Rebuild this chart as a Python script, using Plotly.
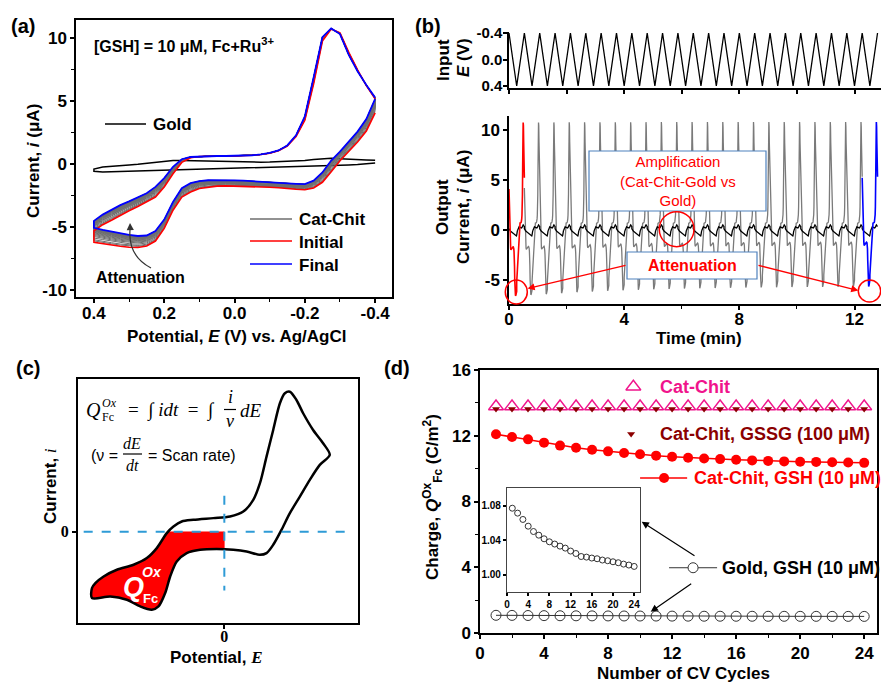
import plotly.graph_objects as go

W, H = 881, 684
SANS = "Liberation Sans, Arial, sans-serif"
SERIF = "Liberation Serif, Times New Roman, serif"

# ---------------- Panel (a)/(b): CV data, sampled every 25 mV ----------------
E_fwd = [-0.400, -0.375, -0.350, -0.325, -0.300, -0.275, -0.250, -0.225, -0.200, -0.175,
         -0.150, -0.125, -0.100, -0.075, -0.050, -0.025, 0.000, 0.025, 0.050, 0.075,
         0.100, 0.125, 0.150, 0.175, 0.200, 0.225, 0.250, 0.275, 0.300, 0.325,
         0.350, 0.375, 0.400]
E_rev = E_fwd[::-1]

# Cat-Chit, initial cycle (red)
i_initial_fwd = [4.08, 2.65, 1.77, 1.03, 0.28, -0.60, -1.43, -1.88, -2.02, -1.98,
                 -1.90, -1.86, -1.83, -1.80, -1.77, -1.74, -1.72, -1.72, -1.74, -1.80,
                 -1.92, -2.20, -2.60, -3.65, -5.10, -6.10, -6.50, -6.62, -6.60, -6.52,
                 -6.42, -6.30, -6.20]
i_initial_rev = [-5.30, -4.80, -4.45, -4.05, -3.70, -3.35, -3.00, -2.60, -1.80, -0.75,
                 0.15, 0.52, 0.62, 0.65, 0.66, 0.66, 0.66, 0.68, 0.72, 0.78,
                 0.88, 1.08, 1.45, 2.20, 3.50, 6.40, 9.80, 10.75, 10.45, 8.90,
                 7.50, 6.25, 5.20]
# Cat-Chit, final cycle (blue)
i_final_fwd = [5.20, 3.60, 2.60, 1.80, 1.00, 0.30, -0.65, -1.30, -1.58, -1.55,
               -1.50, -1.45, -1.40, -1.36, -1.32, -1.30, -1.28, -1.26, -1.25, -1.27,
               -1.33, -1.50, -1.90, -3.00, -4.40, -5.30, -5.66, -5.70, -5.62, -5.50,
               -5.38, -5.22, -5.05]
i_final_rev = [-4.50, -4.00, -3.60, -3.25, -2.95, -2.65, -2.30, -1.80, -1.10, -0.20,
               0.40, 0.58, 0.62, 0.65, 0.66, 0.66, 0.66, 0.68, 0.72, 0.78,
               0.90, 1.10, 1.50, 2.30, 3.80, 6.90, 10.10, 10.80, 10.35, 8.70,
               7.40, 6.30, 5.30]
# Bare gold electrode (black)
i_gold_fwd = [0.10, 0.02, -0.02, -0.05, -0.07, -0.10, -0.13, -0.15, -0.17, -0.19,
              -0.21, -0.23, -0.25, -0.27, -0.29, -0.31, -0.33, -0.35, -0.37, -0.39,
              -0.41, -0.43, -0.45, -0.47, -0.49, -0.51, -0.53, -0.55, -0.57, -0.60,
              -0.62, -0.62, -0.55]
i_gold_rev = [-0.38, -0.22, -0.15, -0.10, -0.05, 0.00, 0.08, 0.16, 0.25, 0.30,
              0.30, 0.28, 0.26, 0.24, 0.22, 0.20, 0.18, 0.17, 0.17, 0.17,
              0.18, 0.20, 0.22, 0.25, 0.30, 0.38, 0.45, 0.48, 0.45, 0.40,
              0.37, 0.35, 0.32]

scan_rate = 3.0      # V/min (50 mV/s)
n_cycles = 24

# ---------------- Panel (d) ----------------
cycles = [1, 2, 3, 4, 5, 6, 7, 8, 9, 10, 11, 12, 13, 14, 15, 16, 17, 18, 19, 20, 21, 22, 23, 24]
Q_catchit = [13.78, 13.78, 13.78, 13.78, 13.78, 13.78, 13.78, 13.78, 13.78, 13.78, 13.78, 13.78,
             13.78, 13.78, 13.78, 13.78, 13.78, 13.78, 13.78, 13.78, 13.78, 13.78, 13.78, 13.78]
Q_gssg = [13.62, 13.62, 13.62, 13.62, 13.62, 13.62, 13.62, 13.62, 13.62, 13.62, 13.62, 13.62,
          13.62, 13.62, 13.62, 13.62, 13.62, 13.62, 13.62, 13.62, 13.62, 13.62, 13.62, 13.62]
Q_gsh = [12.09, 11.92, 11.78, 11.58, 11.40, 11.27, 11.15, 11.05, 10.95, 10.87, 10.79, 10.72,
         10.66, 10.62, 10.58, 10.54, 10.50, 10.47, 10.44, 10.42, 10.41, 10.39, 10.37, 10.35]
Q_gold = [1.077, 1.0713, 1.064, 1.0562, 1.050, 1.0458, 1.0416, 1.0381, 1.0355, 1.0331, 1.0308, 1.0274,
          1.0246, 1.0211, 1.0204, 1.0193, 1.0185, 1.017, 1.0162, 1.015, 1.0139, 1.0123, 1.0112, 1.0096]

# ---------------- Panel (c): schematic CV ----------------
schem_E = [-132.7, -114.3, -97.7, -84.3, -72.7, -66.0, -59.3, -54.3, -47.7, -37.7, -24.3, -7.7,
           9.0, 22.3, 35.7, 42.3, 49.0, 57.3, 65.7, 75.7, 85.7, 95.7, 105.7, 99.0, 89.0, 79.0,
           72.3, 65.7, 60.7, 55.7, 49.0, 42.3, 35.7, 29.0, 19.0, 5.7, -11.0, -31.0, -42.7, -51.0,
           -57.7, -67.7, -77.7, -91.0, -107.7, -121.0, -129.3, -132.7, -132.7]
schem_i = [-66.3, -64.7, -68.0, -74.7, -78.0, -74.7, -61.3, -44.7, -29.7, -21.3, -18.0, -17.3,
           -18.0, -19.7, -23.0, -21.3, -13.0, 2.0, 18.7, 35.3, 52.0, 67.0, 77.0, 88.7, 102.0, 118.7,
           132.0, 140.3, 138.7, 128.7, 102.0, 75.3, 48.7, 32.0, 20.3, 15.3, 13.7, 12.0, 10.3, 5.3,
           -1.3, -16.3, -26.3, -33.0, -38.0, -44.7, -51.3, -56.3, -66.3]
fill_E = [-56.3, 0.0, 0.0, -7.7, -24.3, -37.7, -47.7, -54.3, -59.3, -66.0, -72.7, -84.3, -97.7,
          -114.3, -132.7, -132.7, -129.3, -121.0, -107.7, -91.0, -77.7, -67.7, -57.7]
fill_i = [0.0, 0.0, -17.3, -17.3, -18.0, -21.3, -29.7, -44.7, -61.3, -74.7, -78.0, -74.7, -68.0,
          -64.7, -66.3, -56.3, -51.3, -44.7, -38.0, -33.0, -26.3, -16.3, -1.3]

# ---------------- derived series ----------------
E_cycle = E_fwd + E_rev
E_span = E_fwd[-1] - E_fwd[0]
period = 2 * E_span / scan_rate
t_in_cycle = [(E - E_fwd[0]) / scan_rate for E in E_fwd] + \
             [(E_span + E_fwd[-1] - E) / scan_rate for E in E_rev]
i_initial = i_initial_fwd + i_initial_rev
i_final = i_final_fwd + i_final_rev
i_gold = i_gold_fwd + i_gold_rev


# intermediate Cat-Chit cycles weighted by the measured charge decay (panel d)
def cycle_current(k):
    w = (Q_gsh[k] - Q_gsh[-1]) / (Q_gsh[0] - Q_gsh[-1])
    return [w * a + (1 - w) * b for a, b in zip(i_initial, i_final)]


gray_E, gray_t, gray_i = [], [], []
for k in range(1, n_cycles - 1):
    cur = cycle_current(k)
    gray_E += E_cycle
    gray_i += cur
    gray_t += [k * period + t for t in t_in_cycle]

all_t, all_E, gold_i_t = [], [], []
for k in range(n_cycles):
    all_t += [k * period + t for t in t_in_cycle]
    all_E += E_cycle
    gold_i_t += i_gold

t_first = t_in_cycle
t_last = [(n_cycles - 1) * period + t for t in t_in_cycle]

GRAY = "#6e6e6e"
PINK = "#F0148C"
DRED = "#8B0000"

fig = go.Figure()
# (a)
fig.add_trace(go.Scatter(x=E_cycle, y=i_gold, mode="lines", line=dict(color="black", width=1.5), xaxis="x", yaxis="y"))
fig.add_trace(go.Scatter(x=gray_E, y=gray_i, mode="lines", line=dict(color=GRAY, width=1.0), xaxis="x", yaxis="y"))
fig.add_trace(go.Scatter(x=E_cycle, y=i_initial, mode="lines", line=dict(color="red", width=1.6), xaxis="x", yaxis="y"))
fig.add_trace(go.Scatter(x=E_cycle, y=i_final, mode="lines", line=dict(color="blue", width=1.8), xaxis="x", yaxis="y"))
# (b) input
fig.add_trace(go.Scatter(x=all_t, y=all_E, mode="lines", line=dict(color="black", width=1.3), xaxis="x2", yaxis="y2"))
# (b) output
fig.add_trace(go.Scatter(x=gray_t, y=gray_i, mode="lines", line=dict(color="#7a7a7a", width=1.3), xaxis="x3", yaxis="y3"))
fig.add_trace(go.Scatter(x=all_t, y=gold_i_t, mode="lines", line=dict(color="black", width=1.3), xaxis="x3", yaxis="y3"))
fig.add_trace(go.Scatter(x=t_first, y=i_initial, mode="lines", line=dict(color="red", width=1.6), xaxis="x3", yaxis="y3"))
fig.add_trace(go.Scatter(x=t_last, y=i_final, mode="lines", line=dict(color="blue", width=1.6), xaxis="x3", yaxis="y3"))
# (c)
fig.add_trace(go.Scatter(x=fill_E, y=fill_i, mode="lines", fill="toself", fillcolor="red",
                         line=dict(color="red", width=0.5), xaxis="x4", yaxis="y4"))
fig.add_trace(go.Scatter(x=schem_E, y=schem_i, mode="lines",
                         line=dict(color="black", width=2.5, shape="spline", smoothing=0.8),
                         xaxis="x4", yaxis="y4"))
# (d)
fig.add_trace(go.Scatter(x=cycles, y=Q_gold, mode="lines+markers", line=dict(color="#333", width=1),
                         marker=dict(symbol="circle-open", size=10, color="#333", line=dict(width=1)),
                         xaxis="x5", yaxis="y5"))
fig.add_trace(go.Scatter(x=cycles, y=Q_gsh, mode="lines+markers", line=dict(color="red", width=1.5),
                         marker=dict(symbol="circle", size=10, color="red"), xaxis="x5", yaxis="y5"))
fig.add_trace(go.Scatter(x=cycles, y=Q_catchit, mode="markers",
                         marker=dict(symbol="triangle-up-open", size=13, color=PINK, line=dict(width=1.4)),
                         xaxis="x5", yaxis="y5"))
fig.add_trace(go.Scatter(x=cycles, y=Q_gssg, mode="markers",
                         marker=dict(symbol="triangle-down", size=7, color=DRED), xaxis="x5", yaxis="y5"))
# (d) legend keys
fig.add_trace(go.Scatter(x=[9.58], y=[14.98], mode="markers",
                         marker=dict(symbol="triangle-up-open", size=13, color=PINK, line=dict(width=1.4)),
                         xaxis="x5", yaxis="y5"))
fig.add_trace(go.Scatter(x=[9.44], y=[12.10], mode="markers",
                         marker=dict(symbol="triangle-down", size=7, color=DRED), xaxis="x5", yaxis="y5"))
fig.add_trace(go.Scatter(x=[10.0, 12.94], y=[9.43, 9.43], mode="lines", line=dict(color="red", width=1.5),
                         xaxis="x5", yaxis="y5"))
fig.add_trace(go.Scatter(x=[11.5], y=[9.43], mode="markers", marker=dict(symbol="circle", size=10, color="red"),
                         xaxis="x5", yaxis="y5"))
fig.add_trace(go.Scatter(x=[11.81, 14.81], y=[3.97, 3.97], mode="lines", line=dict(color="#333", width=1),
                         xaxis="x5", yaxis="y5"))
fig.add_trace(go.Scatter(x=[13.31], y=[3.97], mode="markers",
                         marker=dict(symbol="circle", size=10, color="white", line=dict(color="#333", width=1)),
                         xaxis="x5", yaxis="y5"))
# inset
fig.add_trace(go.Scatter(x=cycles, y=Q_gold, mode="markers",
                         marker=dict(symbol="circle-open", size=6, color="#333", line=dict(width=1)),
                         xaxis="x6", yaxis="y6"))


def ax(**kw):
    d = dict(showline=True, linecolor="black", linewidth=1.5, ticks="outside", ticklen=4, tickwidth=1.5,
             tickcolor="black", showgrid=False, zeroline=False, tickmode="array", automargin=False,
             tickfont=dict(family=SANS, size=17, color="black", weight="bold"))
    d.update(kw)
    return d


def minor(vals, ln=3):
    return dict(tickmode="array", tickvals=vals, ticks="outside", ticklen=ln, tickwidth=1.2, tickcolor="black")


def dom_x(a, b):
    return [a / W, b / W]


def dom_y(top, bottom):
    return [1 - bottom / H, 1 - top / H]


fig.update_layout(
    width=W, height=H, margin=dict(l=0, r=0, t=0, b=0, autoexpand=False), showlegend=False,
    paper_bgcolor="white", plot_bgcolor="white",
    xaxis=ax(domain=dom_x(76, 392), range=[0.451, -0.448], anchor="y", mirror=True, ticklabelstandoff=-4,
             tickvals=[0.4, 0.2, 0.0, -0.2, -0.4], ticktext=["0.4", "0.2", "0.0", "-0.2", "-0.4"],
             minor=minor([0.3, 0.1, -0.1, -0.3])),
    yaxis=ax(domain=dom_y(20, 297), range=[-10.55, 11.47], anchor="x", mirror=True,
             tickvals=[-10, -5, 0, 5, 10], ticktext=["-10", "-5", "0", "5", "10"],
             minor=minor([-7.5, -2.5, 2.5, 7.5])),
    xaxis2=ax(domain=dom_x(509, 881), range=[0, 12.92], anchor="y2", showticklabels=False,
              tickvals=[0, 2, 4, 6, 8, 10, 12]),
    yaxis2=ax(domain=dom_y(31.7, 88), range=[0.43, -0.42], anchor="x2", ticklabelstandoff=-2,
              tickvals=[-0.4, 0.0, 0.4], ticktext=["-0.4", "0.0", "0.4"],
              tickfont=dict(family=SANS, size=15, color="black", weight="bold")),
    xaxis3=ax(domain=dom_x(509, 881), range=[0, 12.92], anchor="y3", ticklabelstandoff=-5,
              tickvals=[0, 4, 8, 12], ticktext=["0", "4", "8", "12"], minor=minor([2, 6, 10])),
    yaxis3=ax(domain=dom_y(116, 304), range=[-7.45, 11.4], anchor="x3",
              tickvals=[-5, 0, 5, 10], ticktext=["-5", "0", "5", "10"]),
    xaxis4=ax(domain=dom_x(78, 358), range=[-146.7, 134], anchor="y4", mirror=True, linewidth=2,
              ticklabelstandoff=-6,
              tickvals=[0], ticktext=["0"], tickfont=dict(family=SERIF, size=16, color="black", weight="bold")),
    yaxis4=ax(domain=dom_y(379, 623), range=[-91.3, 153], anchor="x4", mirror=True, linewidth=2,
              tickvals=[0], ticktext=["0"], tickfont=dict(family=SERIF, size=16, color="black", weight="bold")),
    xaxis5=ax(domain=dom_x(480, 877), range=[0, 24.8], anchor="y5", mirror=True,
              tickvals=[0, 4, 8, 12, 16, 20, 24], ticktext=["0", "4", "8", "12", "16", "20", "24"],
              minor=minor([2, 6, 10, 14, 18, 22])),
    yaxis5=ax(domain=dom_y(370, 633), range=[0, 16], anchor="x5", mirror=True,
              tickvals=[0, 4, 8, 12, 16], ticktext=["0", "4", "8", "12", "16"],
              minor=minor([2, 6, 10, 14])),
    xaxis6=ax(domain=dom_x(507, 640), range=[0, 25.1], anchor="y6", mirror=True, linewidth=1.3, ticklen=3,
              linecolor="#444", tickvals=[0, 4, 8, 12, 16, 20, 24],
              ticktext=["0", "4", "8", "12", "16", "20", "24"],
              tickfont=dict(family=SANS, size=10, color="black", weight="bold")),
    yaxis6=ax(domain=dom_y(488, 592), range=[0.98, 1.1004], anchor="x6", mirror=True, linewidth=1.3, ticklen=3,
              linecolor="#444", tickvals=[1.00, 1.04, 1.08], ticktext=["1.00", "1.04", "1.08"],
              tickfont=dict(family=SANS, size=10, color="black", weight="bold")),
)


def P(x, y):
    return x / W, 1 - y / H


anns = []


def ann(text, x, y, size=17, color="black", xa="center", ya="middle", angle=0, family=SANS, **kw):
    px_, py_ = P(x, y)
    d = dict(text=text, x=px_, y=py_, xref="paper", yref="paper", showarrow=False, xanchor=xa, yanchor=ya,
             textangle=angle, font=dict(family=family, size=size, color=color))
    d.update(kw)
    anns.append(d)


def arrow(x_tip, y_tip, x_tail, y_tail, color="black", width=1.2, head=2, size=1.0):
    px_, py_ = P(x_tip, y_tip)
    anns.append(dict(x=px_, y=py_, xref="paper", yref="paper", text="", showarrow=True,
                     ax=x_tail - x_tip, ay=y_tail - y_tip, axref="pixel", ayref="pixel",
                     arrowhead=head, arrowsize=size, arrowwidth=width, arrowcolor=color))


shapes = []


def seg(x0, y0, x1, y1, color="black", width=1.5, dash="solid"):
    a0, b0 = P(x0, y0)
    a1, b1 = P(x1, y1)
    shapes.append(dict(type="line", xref="paper", yref="paper", x0=a0, y0=b0, x1=a1, y1=b1,
                       line=dict(color=color, width=width, dash=dash)))


def rect(x0, y0, x1, y1, line="#4F81BD"):
    a0, b0 = P(x0, y0)
    a1, b1 = P(x1, y1)
    shapes.append(dict(type="rect", xref="paper", yref="paper", x0=a0, y0=b1, x1=a1, y1=b0,
                       fillcolor="white", line=dict(color=line, width=1.2), layer="above"))


def circ(x0, y0, x1, y1, color="red"):
    a0, b0 = P(x0, y0)
    a1, b1 = P(x1, y1)
    shapes.append(dict(type="circle", xref="paper", yref="paper", x0=a0, y0=b1, x1=a1, y1=b0,
                       line=dict(color=color, width=1.5)))


# ---- (a) ----
ann("<b>(a)</b>", 23, 26, size=20)
ann("<b>[GSH] = 10 μM, Fc+Ru<sup>3+</sup></b>", 92, 45, size=16, xa="left")
seg(105, 124, 146, 124, "black")
ann("<b>Gold</b>", 151, 124, xa="left")
seg(250, 219, 292, 219, GRAY)
ann("<b>Cat-Chit</b>", 297, 219, xa="left")
seg(250, 241, 292, 241, "red")
ann("<b>Initial</b>", 297, 242, xa="left")
seg(250, 264, 292, 264, "blue")
ann("<b>Final</b>", 297, 265, xa="left")
ann("<b>Attenuation</b>", 94, 277, size=16, xa="left")
a0, b0 = P(151, 268)
ac, bc = P(128, 256)
a1, b1 = P(130, 230)
shapes.append(dict(type="path", xref="paper", yref="paper",
                   path=f"M {a0},{b0} Q {ac},{bc} {a1},{b1}", line=dict(color="#333", width=1.2)))
arrow(130, 223, 130.3, 231, color="#333", width=1.2, head=2, size=1.2)
ann("<b>Current, <i>i</i> (μA)</b>", 33, 161, angle=-90)
ann("<b>Potential, <i>E</i> (V) vs. Ag/AgCl</b>", 236, 336)

# ---- (b) ----
ann("<b>(b)</b>", 428, 26, size=20)
ann("<b>Input</b>", 443, 60, angle=-90)
ann("<b><i>E</i> (V)</b>", 464, 58, angle=-90)
ann("<b>Output</b>", 443, 207, angle=-90)
ann("<b>Current, <i>i</i> (μA)</b>", 464, 207, angle=-90)
ann("<b>Time (min)</b>", 699, 338)
rect(589, 151, 766, 211)
ann("Amplification<br>(Cat-Chit-Gold vs<br>Gold)", 677.5, 181, size=15, color="red")
rect(627, 252, 757, 279)
ann("<b>Attenuation</b>", 692, 266, size=16, color="red")
circ(659.3, 211.7, 694, 246.7)
circ(505.3, 280, 527.3, 304)
circ(858.3, 280, 880.7, 302)
arrow(527.5, 288.5, 627, 265, color="red", width=1.3, head=2, size=1.1)
arrow(858.3, 290.5, 757, 265, color="red", width=1.3, head=2, size=1.1)

# ---- (c) ----
ann("<b>(c)</b>", 28, 368, size=20)
ann("<b>Current, </b><span style='font-family:Liberation Serif'><i>i</i></span>", 50, 486, angle=-90)
ann("<b>Potential, </b><span style='font-family:Liberation Serif'><b><i>E</i></b></span>", 216, 657)
ann("<i>Q</i>", 93.5, 410, size=20, family=SERIF)
ann("<i>Ox</i>", 109, 403, size=12, family=SERIF)
ann("Fc", 108, 417, size=12, family=SERIF)
ann("=  ∫ <i>idt</i>  =  ∫", 126, 410, size=19, family=SERIF, xa="left")
ann("<i>i</i>", 230, 397, size=18, family=SERIF)
seg(224, 409.5, 236, 409.5, "black", 1.2)
ann("<i>v</i>", 230, 421, size=18, family=SERIF)
ann("<i>dE</i>", 238, 410, size=19, family=SERIF, xa="left")
ann("(ν =", 89, 455, size=16, xa="left")
ann("<i>dE</i>", 132, 443, size=16, family=SERIF)
seg(123, 454, 142, 454, "black", 1.2)
ann("<i>dt</i>", 132, 465, size=16, family=SERIF)
ann("= Scan rate)", 146, 455, size=16, xa="left")
ann("<b><i>Q</i></b>", 133, 587, size=27, color="white")
ann("<b><i>Ox</i></b>", 152, 572, size=14, color="white")
ann("<b>Fc</b>", 150, 598, size=13, color="white")
for (xx0, yy0, xx1, yy1) in [(-141, 0, 127.3, 0), (0, 36, 0, -58.7)]:
    shapes.append(dict(type="line", xref="x4", yref="y4", x0=xx0, y0=yy0, x1=xx1, y1=yy1,
                       line=dict(color="#2E9BD6", width=2, dash="dash")))

# ---- (d) ----
ann("<b>(d)</b>", 397, 368, size=20)
ann("<b>Charge, <i>Q</i><sup>Ox</sup><sub>Fc</sub> (C/m<sup>2</sup>)</b>", 432, 497, angle=-90)
ann("<b>Number of CV Cycles</b>", 683, 673)
ann("<b>Cat-Chit</b>", 658, 387, size=18, color=PINK, xa="left")
ann("<b>Cat-Chit, GSSG (100 μM)</b>", 658, 434, size=18, color=DRED, xa="left")
ann("<b>Cat-Chit, GSH (10 μM)</b>", 692, 478, size=18, color="red", xa="left")
ann("<b>Gold, GSH (10 μM)</b>", 720, 568, size=18, xa="left")
arrow(641.7, 521.7, 696, 556.7, color="black", width=1.2, head=2, size=1.2)
arrow(650.7, 611.7, 692.7, 582.7, color="black", width=1.2, head=2, size=1.2)

fig.update_layout(annotations=anns, shapes=shapes)
fig.write_html("out.html")
